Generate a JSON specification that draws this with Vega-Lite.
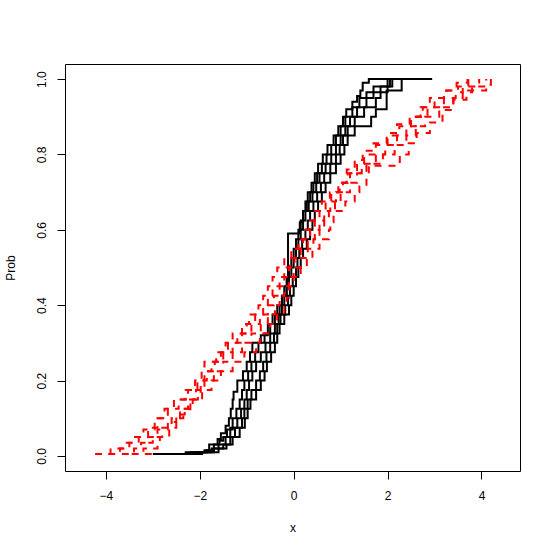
{
"$schema": "https://vega.github.io/schema/vega-lite/v6.json",
"width": 455,
"height": 407,
"autosize": {"type": "none"},
"padding": {"left": 65, "top": 64, "right": 34, "bottom": 82},
"background": "white",
"config": {
  "view": {"stroke": "black", "strokeWidth": 1},
  "axis": {"grid": false, "domain": false, "tickColor": "black", "tickSize": 8, "tickWidth": 1,
    "labelFont": "Liberation Sans", "labelFontSize": 12, "labelColor": "black",
    "titleFont": "Liberation Sans", "titleFontSize": 12, "titleFontWeight": "normal", "titleColor": "black"}
},
"datasets": {
"black": [
{"s":1,"x":-3.0,"y":0.005},{"s":1,"x":-2.3,"y":0.01},{"s":1,"x":-1.9,"y":0.015},{"s":1,"x":-1.8,"y":0.03},{"s":1,"x":-1.62,"y":0.045},{"s":1,"x":-1.55,"y":0.06},{"s":1,"x":-1.45,"y":0.08},{"s":1,"x":-1.38,"y":0.1},{"s":1,"x":-1.34,"y":0.125},{"s":1,"x":-1.3,"y":0.15},{"s":1,"x":-1.28,"y":0.17},{"s":1,"x":-1.2,"y":0.2},{"s":1,"x":-1.08,"y":0.225},{"s":1,"x":-1.0,"y":0.25},{"s":1,"x":-0.93,"y":0.275},{"s":1,"x":-0.88,"y":0.3},{"s":1,"x":-0.7,"y":0.32},{"s":1,"x":-0.55,"y":0.35},{"s":1,"x":-0.45,"y":0.375},{"s":1,"x":-0.35,"y":0.4},{"s":1,"x":-0.25,"y":0.425},{"s":1,"x":-0.15,"y":0.45},{"s":1,"x":-0.12,"y":0.59},{"s":1,"x":0.13,"y":0.62},{"s":1,"x":0.2,"y":0.65},{"s":1,"x":0.25,"y":0.675},{"s":1,"x":0.3,"y":0.7},{"s":1,"x":0.38,"y":0.725},{"s":1,"x":0.45,"y":0.75},{"s":1,"x":0.52,"y":0.775},{"s":1,"x":0.62,"y":0.8},{"s":1,"x":0.72,"y":0.825},{"s":1,"x":0.85,"y":0.85},{"s":1,"x":0.95,"y":0.875},{"s":1,"x":1.05,"y":0.9},{"s":1,"x":1.12,"y":0.92},{"s":1,"x":1.25,"y":0.94},{"s":1,"x":1.35,"y":0.955},{"s":1,"x":1.42,"y":0.97},{"s":1,"x":1.47,"y":0.99},{"s":1,"x":1.6,"y":1.0},{"s":1,"x":2.0,"y":1.0},
{"s":2,"x":-2.95,"y":0.005},{"s":2,"x":-2.2,"y":0.01},{"s":2,"x":-1.85,"y":0.015},{"s":2,"x":-1.7,"y":0.03},{"s":2,"x":-1.58,"y":0.04},{"s":2,"x":-1.5,"y":0.05},{"s":2,"x":-1.42,"y":0.07},{"s":2,"x":-1.3,"y":0.1},{"s":2,"x":-1.22,"y":0.125},{"s":2,"x":-1.15,"y":0.15},{"s":2,"x":-1.1,"y":0.175},{"s":2,"x":-1.05,"y":0.2},{"s":2,"x":-0.97,"y":0.225},{"s":2,"x":-0.9,"y":0.25},{"s":2,"x":-0.82,"y":0.275},{"s":2,"x":-0.75,"y":0.3},{"s":2,"x":-0.62,"y":0.325},{"s":2,"x":-0.5,"y":0.35},{"s":2,"x":-0.4,"y":0.375},{"s":2,"x":-0.3,"y":0.4},{"s":2,"x":-0.25,"y":0.425},{"s":2,"x":-0.2,"y":0.45},{"s":2,"x":-0.15,"y":0.475},{"s":2,"x":-0.1,"y":0.5},{"s":2,"x":-0.05,"y":0.525},{"s":2,"x":0.0,"y":0.55},{"s":2,"x":0.05,"y":0.575},{"s":2,"x":0.1,"y":0.6},{"s":2,"x":0.15,"y":0.625},{"s":2,"x":0.2,"y":0.65},{"s":2,"x":0.28,"y":0.675},{"s":2,"x":0.35,"y":0.7},{"s":2,"x":0.42,"y":0.725},{"s":2,"x":0.5,"y":0.75},{"s":2,"x":0.6,"y":0.775},{"s":2,"x":0.7,"y":0.8},{"s":2,"x":0.8,"y":0.825},{"s":2,"x":0.9,"y":0.85},{"s":2,"x":1.0,"y":0.875},{"s":2,"x":1.1,"y":0.9},{"s":2,"x":1.25,"y":0.925},{"s":2,"x":1.4,"y":0.95},{"s":2,"x":1.55,"y":0.965},{"s":2,"x":1.7,"y":0.98},{"s":2,"x":2.0,"y":1.0},{"s":2,"x":2.2,"y":1.0},
{"s":3,"x":-2.8,"y":0.005},{"s":3,"x":-2.0,"y":0.01},{"s":3,"x":-1.75,"y":0.02},{"s":3,"x":-1.6,"y":0.03},{"s":3,"x":-1.45,"y":0.05},{"s":3,"x":-1.35,"y":0.075},{"s":3,"x":-1.2,"y":0.1},{"s":3,"x":-1.12,"y":0.125},{"s":3,"x":-1.05,"y":0.15},{"s":3,"x":-1.0,"y":0.175},{"s":3,"x":-0.95,"y":0.2},{"s":3,"x":-0.88,"y":0.225},{"s":3,"x":-0.8,"y":0.25},{"s":3,"x":-0.7,"y":0.275},{"s":3,"x":-0.6,"y":0.3},{"s":3,"x":-0.5,"y":0.325},{"s":3,"x":-0.4,"y":0.35},{"s":3,"x":-0.32,"y":0.375},{"s":3,"x":-0.25,"y":0.4},{"s":3,"x":-0.2,"y":0.425},{"s":3,"x":-0.15,"y":0.45},{"s":3,"x":-0.1,"y":0.475},{"s":3,"x":-0.05,"y":0.5},{"s":3,"x":0.0,"y":0.525},{"s":3,"x":0.05,"y":0.55},{"s":3,"x":0.1,"y":0.575},{"s":3,"x":0.15,"y":0.6},{"s":3,"x":0.2,"y":0.625},{"s":3,"x":0.25,"y":0.65},{"s":3,"x":0.32,"y":0.675},{"s":3,"x":0.4,"y":0.7},{"s":3,"x":0.48,"y":0.725},{"s":3,"x":0.55,"y":0.75},{"s":3,"x":0.68,"y":0.775},{"s":3,"x":0.8,"y":0.8},{"s":3,"x":0.9,"y":0.825},{"s":3,"x":1.0,"y":0.85},{"s":3,"x":1.1,"y":0.875},{"s":3,"x":1.2,"y":0.9},{"s":3,"x":1.35,"y":0.925},{"s":3,"x":1.55,"y":0.95},{"s":3,"x":1.7,"y":0.965},{"s":3,"x":1.85,"y":0.98},{"s":3,"x":2.05,"y":1.0},{"s":3,"x":2.5,"y":1.0},
{"s":4,"x":-2.6,"y":0.005},{"s":4,"x":-2.1,"y":0.01},{"s":4,"x":-1.7,"y":0.02},{"s":4,"x":-1.5,"y":0.03},{"s":4,"x":-1.35,"y":0.05},{"s":4,"x":-1.25,"y":0.075},{"s":4,"x":-1.1,"y":0.1},{"s":4,"x":-1.05,"y":0.125},{"s":4,"x":-0.98,"y":0.15},{"s":4,"x":-0.9,"y":0.175},{"s":4,"x":-0.8,"y":0.2},{"s":4,"x":-0.72,"y":0.225},{"s":4,"x":-0.65,"y":0.25},{"s":4,"x":-0.58,"y":0.275},{"s":4,"x":-0.5,"y":0.3},{"s":4,"x":-0.42,"y":0.325},{"s":4,"x":-0.35,"y":0.35},{"s":4,"x":-0.28,"y":0.375},{"s":4,"x":-0.18,"y":0.4},{"s":4,"x":-0.12,"y":0.425},{"s":4,"x":-0.08,"y":0.45},{"s":4,"x":-0.02,"y":0.475},{"s":4,"x":0.05,"y":0.5},{"s":4,"x":0.08,"y":0.525},{"s":4,"x":0.12,"y":0.55},{"s":4,"x":0.18,"y":0.575},{"s":4,"x":0.25,"y":0.6},{"s":4,"x":0.3,"y":0.625},{"s":4,"x":0.35,"y":0.65},{"s":4,"x":0.42,"y":0.675},{"s":4,"x":0.5,"y":0.7},{"s":4,"x":0.58,"y":0.725},{"s":4,"x":0.65,"y":0.75},{"s":4,"x":0.78,"y":0.775},{"s":4,"x":0.9,"y":0.8},{"s":4,"x":0.98,"y":0.825},{"s":4,"x":1.05,"y":0.85},{"s":4,"x":1.15,"y":0.875},{"s":4,"x":1.3,"y":0.9},{"s":4,"x":1.5,"y":0.925},{"s":4,"x":1.75,"y":0.95},{"s":4,"x":1.85,"y":0.965},{"s":4,"x":2.0,"y":0.98},{"s":4,"x":2.1,"y":1.0},{"s":4,"x":2.6,"y":1.0},
{"s":5,"x":-2.5,"y":0.005},{"s":5,"x":-1.95,"y":0.01},{"s":5,"x":-1.6,"y":0.02},{"s":5,"x":-1.43,"y":0.03},{"s":5,"x":-1.3,"y":0.05},{"s":5,"x":-1.15,"y":0.075},{"s":5,"x":-1.04,"y":0.1},{"s":5,"x":-0.98,"y":0.125},{"s":5,"x":-0.92,"y":0.15},{"s":5,"x":-0.8,"y":0.175},{"s":5,"x":-0.7,"y":0.2},{"s":5,"x":-0.62,"y":0.225},{"s":5,"x":-0.57,"y":0.25},{"s":5,"x":-0.48,"y":0.275},{"s":5,"x":-0.4,"y":0.3},{"s":5,"x":-0.35,"y":0.325},{"s":5,"x":-0.3,"y":0.35},{"s":5,"x":-0.2,"y":0.375},{"s":5,"x":-0.1,"y":0.4},{"s":5,"x":-0.05,"y":0.425},{"s":5,"x":0.0,"y":0.45},{"s":5,"x":0.05,"y":0.475},{"s":5,"x":0.1,"y":0.5},{"s":5,"x":0.15,"y":0.525},{"s":5,"x":0.2,"y":0.55},{"s":5,"x":0.28,"y":0.575},{"s":5,"x":0.35,"y":0.6},{"s":5,"x":0.4,"y":0.625},{"s":5,"x":0.45,"y":0.65},{"s":5,"x":0.52,"y":0.675},{"s":5,"x":0.6,"y":0.7},{"s":5,"x":0.68,"y":0.725},{"s":5,"x":0.78,"y":0.75},{"s":5,"x":0.9,"y":0.775},{"s":5,"x":1.0,"y":0.8},{"s":5,"x":1.08,"y":0.825},{"s":5,"x":1.15,"y":0.85},{"s":5,"x":1.3,"y":0.875},{"s":5,"x":1.65,"y":0.9},{"s":5,"x":1.75,"y":0.92},{"s":5,"x":1.98,"y":0.97},{"s":5,"x":2.3,"y":1.0},{"s":5,"x":2.95,"y":1.0}
],
"red": [
{"s":1,"x":-4.23,"y":0.005},{"s":1,"x":-3.9,"y":0.02},{"s":1,"x":-3.6,"y":0.035},{"s":1,"x":-3.38,"y":0.05},{"s":1,"x":-3.2,"y":0.07},{"s":1,"x":-2.96,"y":0.1},{"s":1,"x":-2.75,"y":0.125},{"s":1,"x":-2.55,"y":0.15},{"s":1,"x":-2.3,"y":0.175},{"s":1,"x":-2.1,"y":0.2},{"s":1,"x":-1.96,"y":0.23},{"s":1,"x":-1.9,"y":0.25},{"s":1,"x":-1.65,"y":0.275},{"s":1,"x":-1.45,"y":0.3},{"s":1,"x":-1.3,"y":0.325},{"s":1,"x":-1.1,"y":0.35},{"s":1,"x":-0.95,"y":0.375},{"s":1,"x":-0.75,"y":0.4},{"s":1,"x":-0.65,"y":0.425},{"s":1,"x":-0.55,"y":0.45},{"s":1,"x":-0.45,"y":0.475},{"s":1,"x":-0.35,"y":0.5},{"s":1,"x":-0.2,"y":0.525},{"s":1,"x":-0.05,"y":0.55},{"s":1,"x":0.1,"y":0.575},{"s":1,"x":0.25,"y":0.6},{"s":1,"x":0.35,"y":0.625},{"s":1,"x":0.45,"y":0.65},{"s":1,"x":0.6,"y":0.675},{"s":1,"x":0.77,"y":0.7},{"s":1,"x":0.95,"y":0.725},{"s":1,"x":1.13,"y":0.76},{"s":1,"x":1.3,"y":0.785},{"s":1,"x":1.47,"y":0.81},{"s":1,"x":1.7,"y":0.83},{"s":1,"x":1.98,"y":0.857},{"s":1,"x":2.2,"y":0.88},{"s":1,"x":2.47,"y":0.9},{"s":1,"x":2.7,"y":0.925},{"s":1,"x":2.9,"y":0.95},{"s":1,"x":3.2,"y":0.97},{"s":1,"x":3.47,"y":0.99},{"s":1,"x":3.7,"y":1.0},
{"s":2,"x":-3.95,"y":0.005},{"s":2,"x":-3.7,"y":0.02},{"s":2,"x":-3.5,"y":0.035},{"s":2,"x":-3.3,"y":0.05},{"s":2,"x":-3.1,"y":0.075},{"s":2,"x":-2.9,"y":0.1},{"s":2,"x":-2.68,"y":0.125},{"s":2,"x":-2.45,"y":0.15},{"s":2,"x":-2.25,"y":0.175},{"s":2,"x":-2.05,"y":0.2},{"s":2,"x":-1.9,"y":0.225},{"s":2,"x":-1.75,"y":0.25},{"s":2,"x":-1.55,"y":0.275},{"s":2,"x":-1.4,"y":0.3},{"s":2,"x":-1.2,"y":0.325},{"s":2,"x":-1.0,"y":0.35},{"s":2,"x":-0.82,"y":0.375},{"s":2,"x":-0.65,"y":0.4},{"s":2,"x":-0.55,"y":0.425},{"s":2,"x":-0.45,"y":0.45},{"s":2,"x":-0.3,"y":0.475},{"s":2,"x":-0.2,"y":0.5},{"s":2,"x":-0.08,"y":0.525},{"s":2,"x":0.05,"y":0.55},{"s":2,"x":0.2,"y":0.575},{"s":2,"x":0.35,"y":0.6},{"s":2,"x":0.45,"y":0.625},{"s":2,"x":0.55,"y":0.65},{"s":2,"x":0.68,"y":0.675},{"s":2,"x":0.8,"y":0.7},{"s":2,"x":0.98,"y":0.725},{"s":2,"x":1.15,"y":0.75},{"s":2,"x":1.35,"y":0.775},{"s":2,"x":1.5,"y":0.8},{"s":2,"x":1.75,"y":0.825},{"s":2,"x":2.0,"y":0.85},{"s":2,"x":2.25,"y":0.875},{"s":2,"x":2.5,"y":0.9},{"s":2,"x":2.75,"y":0.925},{"s":2,"x":3.0,"y":0.95},{"s":2,"x":3.25,"y":0.97},{"s":2,"x":3.5,"y":0.98},{"s":2,"x":3.72,"y":1.0},
{"s":3,"x":-3.66,"y":0.005},{"s":3,"x":-3.4,"y":0.02},{"s":3,"x":-3.25,"y":0.035},{"s":3,"x":-3.1,"y":0.05},{"s":3,"x":-2.9,"y":0.07},{"s":3,"x":-2.68,"y":0.09},{"s":3,"x":-2.5,"y":0.11},{"s":3,"x":-2.32,"y":0.124},{"s":3,"x":-2.2,"y":0.15},{"s":3,"x":-2.04,"y":0.17},{"s":3,"x":-1.98,"y":0.2},{"s":3,"x":-1.85,"y":0.225},{"s":3,"x":-1.68,"y":0.25},{"s":3,"x":-1.5,"y":0.275},{"s":3,"x":-1.3,"y":0.3},{"s":3,"x":-1.1,"y":0.325},{"s":3,"x":-0.9,"y":0.35},{"s":3,"x":-0.72,"y":0.375},{"s":3,"x":-0.55,"y":0.4},{"s":3,"x":-0.42,"y":0.425},{"s":3,"x":-0.3,"y":0.45},{"s":3,"x":-0.2,"y":0.475},{"s":3,"x":-0.1,"y":0.5},{"s":3,"x":0.02,"y":0.525},{"s":3,"x":0.15,"y":0.55},{"s":3,"x":0.3,"y":0.575},{"s":3,"x":0.45,"y":0.6},{"s":3,"x":0.55,"y":0.625},{"s":3,"x":0.65,"y":0.65},{"s":3,"x":0.78,"y":0.675},{"s":3,"x":0.9,"y":0.7},{"s":3,"x":1.05,"y":0.725},{"s":3,"x":1.2,"y":0.75},{"s":3,"x":1.45,"y":0.775},{"s":3,"x":1.75,"y":0.8},{"s":3,"x":1.95,"y":0.825},{"s":3,"x":2.2,"y":0.85},{"s":3,"x":2.4,"y":0.875},{"s":3,"x":2.6,"y":0.9},{"s":3,"x":2.85,"y":0.925},{"s":3,"x":3.2,"y":0.95},{"s":3,"x":3.45,"y":0.965},{"s":3,"x":3.6,"y":0.98},{"s":3,"x":3.95,"y":1.0},
{"s":4,"x":-3.45,"y":0.005},{"s":4,"x":-3.2,"y":0.02},{"s":4,"x":-3.1,"y":0.035},{"s":4,"x":-3.0,"y":0.05},{"s":4,"x":-2.8,"y":0.075},{"s":4,"x":-2.6,"y":0.1},{"s":4,"x":-2.42,"y":0.125},{"s":4,"x":-2.25,"y":0.15},{"s":4,"x":-2.08,"y":0.175},{"s":4,"x":-1.9,"y":0.2},{"s":4,"x":-1.7,"y":0.225},{"s":4,"x":-1.5,"y":0.25},{"s":4,"x":-1.3,"y":0.275},{"s":4,"x":-1.1,"y":0.3},{"s":4,"x":-0.9,"y":0.325},{"s":4,"x":-0.7,"y":0.35},{"s":4,"x":-0.55,"y":0.375},{"s":4,"x":-0.4,"y":0.4},{"s":4,"x":-0.3,"y":0.425},{"s":4,"x":-0.2,"y":0.45},{"s":4,"x":-0.1,"y":0.475},{"s":4,"x":0.0,"y":0.5},{"s":4,"x":0.15,"y":0.525},{"s":4,"x":0.3,"y":0.55},{"s":4,"x":0.42,"y":0.575},{"s":4,"x":0.55,"y":0.6},{"s":4,"x":0.65,"y":0.625},{"s":4,"x":0.75,"y":0.65},{"s":4,"x":0.88,"y":0.675},{"s":4,"x":1.0,"y":0.7},{"s":4,"x":1.2,"y":0.725},{"s":4,"x":1.35,"y":0.75},{"s":4,"x":1.6,"y":0.775},{"s":4,"x":1.9,"y":0.8},{"s":4,"x":2.15,"y":0.825},{"s":4,"x":2.4,"y":0.85},{"s":4,"x":2.6,"y":0.875},{"s":4,"x":2.8,"y":0.9},{"s":4,"x":3.1,"y":0.925},{"s":4,"x":3.4,"y":0.95},{"s":4,"x":3.6,"y":0.965},{"s":4,"x":3.8,"y":0.98},{"s":4,"x":4.1,"y":1.0},
{"s":5,"x":-3.17,"y":0.005},{"s":5,"x":-3.0,"y":0.02},{"s":5,"x":-2.9,"y":0.035},{"s":5,"x":-2.85,"y":0.05},{"s":5,"x":-2.65,"y":0.075},{"s":5,"x":-2.5,"y":0.1},{"s":5,"x":-2.35,"y":0.125},{"s":5,"x":-2.15,"y":0.15},{"s":5,"x":-1.95,"y":0.175},{"s":5,"x":-1.75,"y":0.2},{"s":5,"x":-1.55,"y":0.225},{"s":5,"x":-1.3,"y":0.25},{"s":5,"x":-1.05,"y":0.275},{"s":5,"x":-0.8,"y":0.3},{"s":5,"x":-0.72,"y":0.325},{"s":5,"x":-0.5,"y":0.35},{"s":5,"x":-0.35,"y":0.375},{"s":5,"x":-0.2,"y":0.4},{"s":5,"x":-0.15,"y":0.42},{"s":5,"x":-0.1,"y":0.45},{"s":5,"x":0.0,"y":0.475},{"s":5,"x":0.15,"y":0.5},{"s":5,"x":0.28,"y":0.525},{"s":5,"x":0.4,"y":0.55},{"s":5,"x":0.55,"y":0.575},{"s":5,"x":0.75,"y":0.6},{"s":5,"x":0.78,"y":0.62},{"s":5,"x":0.85,"y":0.65},{"s":5,"x":1.1,"y":0.675},{"s":5,"x":1.3,"y":0.7},{"s":5,"x":1.4,"y":0.715},{"s":5,"x":1.55,"y":0.77},{"s":5,"x":2.19,"y":0.78},{"s":5,"x":2.26,"y":0.8},{"s":5,"x":2.45,"y":0.83},{"s":5,"x":2.62,"y":0.857},{"s":5,"x":2.9,"y":0.885},{"s":5,"x":3.17,"y":0.918},{"s":5,"x":3.4,"y":0.945},{"s":5,"x":3.68,"y":0.97},{"s":5,"x":4.1,"y":0.985},{"s":5,"x":4.2,"y":1.0}
]
},
"layer": [
  {
    "data": {"name": "black"},
    "mark": {"type": "line", "interpolate": "step-after", "color": "black", "strokeWidth": 2, "clip": true},
    "encoding": {
      "x": {"field": "x", "type": "quantitative",
        "scale": {"domain": [-4.87, 4.82], "nice": false, "zero": false},
        "axis": {"values": [-4, -2, 0, 2, 4], "title": "x", "labelPadding": 11, "titleY": 60, "titleBaseline": "alphabetic"}},
      "y": {"field": "y", "type": "quantitative",
        "scale": {"domain": [-0.04, 1.04], "nice": false, "zero": false},
        "axis": {"values": [0, 0.2, 0.4, 0.6, 0.8, 1.0], "format": ".1f", "title": "Prob",
          "labelAngle": -90, "labelAlign": "center", "labelBaseline": "bottom", "labelPadding": 9,
          "titleX": -51, "titleBaseline": "alphabetic", "titleAngle": -90}},
      "detail": {"field": "s", "type": "nominal"}
    }
  },
  {
    "data": {"name": "red"},
    "mark": {"type": "line", "interpolate": "step-after", "color": "#FF0000", "strokeWidth": 2, "strokeDash": [7, 7], "clip": true},
    "encoding": {
      "x": {"field": "x", "type": "quantitative"},
      "y": {"field": "y", "type": "quantitative"},
      "detail": {"field": "s", "type": "nominal"}
    }
  }
]
}
